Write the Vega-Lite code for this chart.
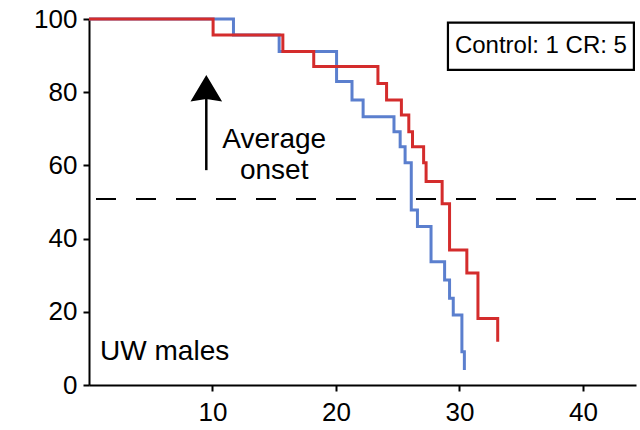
{
  "$schema": "https://vega.github.io/schema/vega-lite/v6.json",
  "autosize": "none",
  "width": 547,
  "height": 366,
  "padding": {"left": 89, "top": 19, "right": 4, "bottom": 45},
  "background": "white",
  "config": {
    "view": {"stroke": null},
    "font": "Liberation Sans",
    "axis": {
      "domainColor": "black", "domainWidth": 2, "tickColor": "black", "tickWidth": 2, "tickSize": 6,
      "labelFont": "Liberation Sans", "labelFontSize": 26, "labelColor": "black", "grid": false, "title": null
    }
  },
  "data": {"values": [
    {"group": "Control", "time": 0, "surv": 100},
    {"group": "Control", "time": 11.7, "surv": 95.6},
    {"group": "Control", "time": 15.4, "surv": 91.1},
    {"group": "Control", "time": 20.05, "surv": 82.9},
    {"group": "Control", "time": 21.3, "surv": 77.9},
    {"group": "Control", "time": 22.2, "surv": 73.3},
    {"group": "Control", "time": 24.7, "surv": 69.2},
    {"group": "Control", "time": 25.2, "surv": 65.1},
    {"group": "Control", "time": 25.6, "surv": 60.7},
    {"group": "Control", "time": 26.1, "surv": 47.8},
    {"group": "Control", "time": 26.6, "surv": 43.3},
    {"group": "Control", "time": 27.7, "surv": 33.7},
    {"group": "Control", "time": 28.8, "surv": 28.7},
    {"group": "Control", "time": 29.2, "surv": 23.7},
    {"group": "Control", "time": 29.5, "surv": 19.1},
    {"group": "Control", "time": 30.2, "surv": 9.1},
    {"group": "Control", "time": 30.4, "surv": 4.1},
    {"group": "CR", "time": 0, "surv": 100},
    {"group": "CR", "time": 10.05, "surv": 95.6},
    {"group": "CR", "time": 15.7, "surv": 91.1},
    {"group": "CR", "time": 18.2, "surv": 87.0},
    {"group": "CR", "time": 23.4, "surv": 82.4},
    {"group": "CR", "time": 24.1, "surv": 77.9},
    {"group": "CR", "time": 25.3, "surv": 73.8},
    {"group": "CR", "time": 25.9, "surv": 69.2},
    {"group": "CR", "time": 26.2, "surv": 65.1},
    {"group": "CR", "time": 27.1, "surv": 60.7},
    {"group": "CR", "time": 27.3, "surv": 55.6},
    {"group": "CR", "time": 28.6, "surv": 49.5},
    {"group": "CR", "time": 29.2, "surv": 36.9},
    {"group": "CR", "time": 30.6, "surv": 30.6},
    {"group": "CR", "time": 31.5, "surv": 18.2},
    {"group": "CR", "time": 33.1, "surv": 11.8}
  ]},
  "layer": [
    {
      "transform": [{"filter": "datum.group === 'Control'"}],
      "mark": {"type": "line", "interpolate": "step-after", "strokeWidth": 3, "color": "#5b7fce"},
      "encoding": {
        "x": {"field": "time", "type": "quantitative", "scale": {"domain": [0, 44.3], "nice": false, "zero": true},
              "axis": {"values": [10, 20, 30, 40], "labelPadding": 8}},
        "y": {"field": "surv", "type": "quantitative", "scale": {"domain": [0, 100], "nice": false},
              "axis": {"values": [0, 20, 40, 60, 80, 100], "labelPadding": 6}}
      }
    },
    {
      "transform": [{"filter": "datum.group === 'CR'"}],
      "mark": {"type": "line", "interpolate": "step-after", "strokeWidth": 3, "color": "#d42c2c"},
      "encoding": {
        "x": {"field": "time", "type": "quantitative"},
        "y": {"field": "surv", "type": "quantitative"}
      }
    },
    {
      "mark": {"type": "rule", "strokeDash": [20, 20], "strokeWidth": 1.8, "color": "black"},
      "encoding": {"y": {"datum": 50.8}}
    },
    {
      "data": {"values": [{}]},
      "mark": {"type": "rule", "strokeWidth": 2.5, "color": "black"},
      "encoding": {"x": {"datum": 9.5}, "y": {"datum": 58.7}, "y2": {"datum": 79}}
    },
    {
      "data": {"values": [{}]},
      "mark": {"type": "point", "filled": true, "color": "black", "opacity": 1, "size": 1000,
               "shape": "M0,-0.84 L1,0.84 L0,0.68 L-1,0.84 Z"},
      "encoding": {"x": {"datum": 9.5}, "y": {"datum": 81.1}}
    },
    {
      "data": {"values": [{}]},
      "mark": {"type": "text", "text": ["Average", "onset"], "fontSize": 28, "lineHeight": 31, "align": "center", "baseline": "middle", "color": "black"},
      "encoding": {"x": {"datum": 15.0}, "y": {"datum": 66.9}}
    },
    {
      "data": {"values": [{}]},
      "mark": {"type": "text", "text": "UW males", "fontSize": 28, "align": "left", "baseline": "middle", "color": "black"},
      "encoding": {"x": {"datum": 0.9}, "y": {"datum": 9.0}}
    },
    {
      "data": {"values": [{}]},
      "mark": {"type": "rect", "fill": "white", "stroke": "black", "strokeWidth": 2.2},
      "encoding": {"x": {"datum": 29.07}, "x2": {"datum": 44.13}, "y": {"datum": 99.0}, "y2": {"datum": 86.1}}
    },
    {
      "data": {"values": [{}]},
      "mark": {"type": "text", "text": "Control: 1 CR: 5", "fontSize": 24, "align": "center", "baseline": "middle", "color": "black"},
      "encoding": {"x": {"datum": 36.6}, "y": {"datum": 92.6}}
    }
  ]
}
